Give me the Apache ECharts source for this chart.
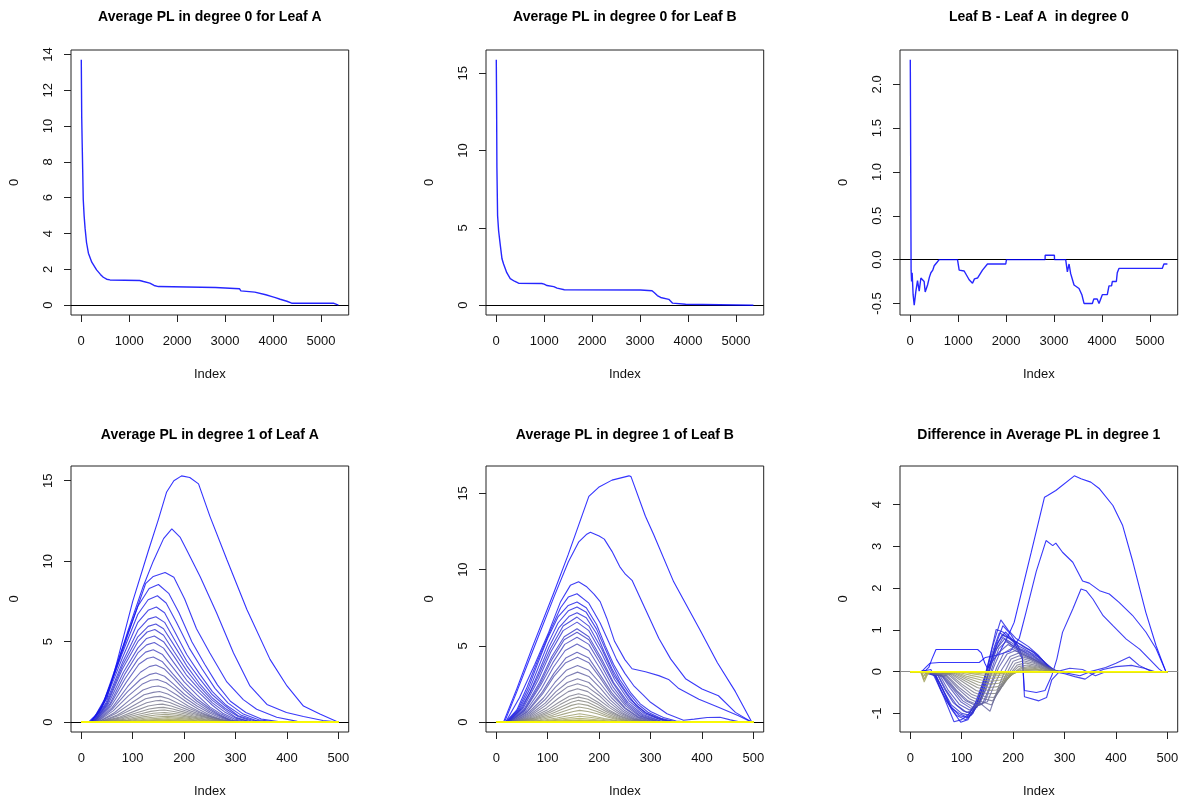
<!DOCTYPE html>
<html>
<head>
<meta charset="utf-8">
<script src="https://cdn.jsdelivr.net/npm/echarts@6/dist/echarts.min.js"></script>
<style>
  html, body { margin: 0; background: #fff; }
  #main { width: 1184px; height: 798px; }
</style>
</head>
<body>
<div id="main"></div>
<script>
// ---- degree 0 landscapes: [index, value] vertices
const deg0LeafA = [[1,13.7],[10,10.5],[20,9.0],[30,7.6],[42,5.9],[60,5.0],[80,4.3],[110,3.5],[150,2.9],[220,2.4],[320,1.97],[400,1.72],[460,1.56],[530,1.45],[600,1.41],[1220,1.38],[1300,1.32],[1430,1.23],[1520,1.1],[1610,1.04],[2800,0.99],[2830,0.95],[3300,0.92],[3330,0.8],[3620,0.73],[3660,0.63],[3850,0.58],[3980,0.48],[4050,0.42],[4150,0.33],[4290,0.22],[4390,0.11],[5260,0.11],[5365,0.0]];
const deg0LeafB = [[1,15.87],[7,13.3],[14,8.9],[28,5.8],[50,4.8],[84,3.9],[120,3.0],[153,2.66],[220,2.1],[292,1.72],[380,1.55],[466,1.42],[950,1.4],[1000,1.36],[1060,1.27],[1200,1.2],[1270,1.1],[1420,1.0],[3010,0.98],[3250,0.93],[3300,0.8],[3360,0.62],[3430,0.5],[3600,0.38],[3640,0.3],[3680,0.13],[3710,0.07],[3950,0.06],[3985,0],[5365,0]];
const deg0Diff = [[1,2.28],[6,1.62],[10,1.6],[18,-0.12],[28,-0.25],[40,-0.15],[60,-0.4],[83,-0.52],[118,-0.36],[152,-0.24],[187,-0.36],[222,-0.21],[260,-0.19],[290,-0.25],[312,-0.37],[361,-0.29],[400,-0.2],[431,-0.15],[470,-0.12],[500,-0.07],[560,-0.03],[604,0],[900,0],[930,0.02],[986,0],[1021,-0.12],[1125,-0.13],[1229,-0.23],[1299,-0.27],[1340,-0.22],[1403,-0.21],[1507,-0.12],[1611,-0.05],[1993,-0.05],[2007,0],[2813,0],[2815,0.05],[3007,0.05],[3010,0],[3243,0],[3278,-0.14],[3313,-0.05],[3347,-0.16],[3417,-0.29],[3521,-0.33],[3580,-0.4],[3625,-0.5],[3799,-0.5],[3830,-0.45],[3900,-0.45],[3938,-0.5],[3960,-0.5],[4007,-0.4],[4111,-0.4],[4146,-0.3],[4200,-0.3],[4215,-0.25],[4300,-0.25],[4319,-0.15],[4354,-0.1],[5257,-0.1],[5292,-0.05],[5365,-0.05]];

// ---- degree 1 landscapes (lambda_1, lambda_2, ...), [index, value] vertices
const Z = [[0,0],[500,0]];
const deg1LeafA = [
  [[0,0],[14,0],[30,0.5],[50,1.5],[70,3.8],[100,7.5],[130,10.6],[150,12.6],[166,14.3],[180,15.0],[195,15.3],[211,15.2],[228,14.8],[250,12.8],[283,10.1],[322,7.0],[367,3.9],[400,2.25],[432,1.0],[464,0.5],[500,0]],
  [[0,0],[16,0],[35,0.6],[60,2.6],[90,5.6],[120,8.4],[140,10.0],[160,11.4],[176,12.0],[192,11.5],[205,10.7],[231,9.05],[263,6.8],[296,4.3],[328,2.25],[361,1.1],[399,0.6],[432,0.35],[470,0.1],[500,0]],
  [[0,0],[18,0],[40,0.9],[70,3.5],[100,6.3],[125,8.6],[140,9.05],[163,9.3],[180,9.0],[201,7.65],[224,5.8],[250,4.3],[283,2.5],[315,1.4],[341,0.8],[380,0.3],[420,0.05],[460,0],[500,0]],
  [[0,0],[20,0],[45,1.4],[80,4.6],[110,7.2],[132,8.3],[150,8.55],[170,8.0],[190,6.8],[215,5.0],[240,3.6],[265,2.3],[290,1.3],[320,0.6],[350,0.2],[390,0],[500,0]],
  [[0,0],[20,0],[45,1.3],[80,4.3],[110,6.7],[130,7.6],[148,7.85],[165,7.4],[185,6.2],[210,4.6],[235,3.3],[260,2.1],[285,1.2],[315,0.5],[345,0.15],[380,0],[500,0]],
  [[0,0],[22,0],[45,1.2],[80,4.0],[110,6.2],[130,6.95],[146,7.15],[162,6.8],[182,5.6],[205,4.2],[230,3.0],[255,1.9],[280,1.1],[310,0.45],[340,0.1],[370,0],[500,0]],
  [[0,0],[22,0],[48,1.2],[80,3.7],[110,5.7],[130,6.4],[145,6.55],[162,6.2],[180,5.2],[205,3.8],[230,2.7],[255,1.7],[280,1.0],[305,0.4],[335,0.1],[360,0],[500,0]],
  [[0,0],[24,0],[50,1.2],[80,3.5],[110,5.3],[130,5.95],[145,6.1],[160,5.8],[180,4.8],[205,3.5],[230,2.4],[255,1.5],[280,0.85],[305,0.35],[330,0.08],[355,0],[500,0]],
  [[0,0],[24,0],[50,1.1],[80,3.3],[110,5.0],[128,5.6],[143,5.75],[160,5.4],[180,4.4],[205,3.2],[230,2.2],[255,1.35],[280,0.75],[300,0.3],[325,0.05],[350,0],[500,0]],
  [[0,0],[25,0],[52,1.1],[82,3.1],[110,4.6],[127,5.2],[142,5.35],[160,5.0],[180,4.1],[205,2.9],[230,2.0],[255,1.2],[278,0.65],[300,0.25],[325,0.05],[345,0],[500,0]],
  [[0,0],[26,0],[55,1.1],[85,3.0],[110,4.3],[127,4.8],[142,4.95],[160,4.6],[180,3.7],[205,2.6],[230,1.8],[255,1.05],[275,0.55],[298,0.2],[320,0.04],[340,0],[500,0]],
  [[0,0],[26,0],[55,1.0],[85,2.7],[110,3.9],[125,4.35],[140,4.5],[158,4.2],[178,3.4],[200,2.5],[225,1.7],[250,0.95],[272,0.5],[295,0.15],[320,0],[500,0]],
  [[0,0],[28,0],[58,1.0],[88,2.5],[112,3.6],[128,3.95],[140,4.05],[158,3.75],[178,3.0],[200,2.2],[225,1.45],[250,0.85],[270,0.45],[292,0.12],[315,0],[500,0]],
  [[0,0],[28,0],[60,0.9],[90,2.2],[115,3.1],[132,3.45],[145,3.55],[162,3.3],[180,2.7],[200,2.0],[225,1.3],[250,0.75],[270,0.4],[290,0.1],[310,0],[500,0]],
  [[0,0],[30,0],[60,0.8],[90,1.9],[115,2.65],[132,2.95],[145,3.05],[162,2.85],[180,2.35],[200,1.75],[225,1.15],[250,0.65],[270,0.35],[290,0.1],[305,0],[500,0]],
  [[0,0],[30,0],[62,0.7],[92,1.65],[118,2.35],[135,2.6],[148,2.65],[165,2.45],[182,2.05],[202,1.5],[225,1.0],[250,0.55],[270,0.28],[288,0.08],[300,0],[500,0]],
  [[0,0],[32,0],[65,0.6],[95,1.4],[120,2.0],[138,2.2],[150,2.25],[165,2.1],[185,1.7],[205,1.25],[228,0.8],[250,0.45],[270,0.2],[290,0.04],[300,0],[500,0]],
  [[0,0],[32,0],[68,0.55],[98,1.2],[122,1.7],[140,1.85],[152,1.9],[168,1.75],[188,1.4],[208,1.0],[230,0.65],[252,0.35],[272,0.15],[290,0],[500,0]],
  [[0,0],[34,0],[70,0.45],[100,1.0],[125,1.45],[142,1.57],[154,1.6],[170,1.45],[190,1.15],[210,0.85],[232,0.55],[255,0.3],[275,0.1],[290,0],[500,0]],
  [[0,0],[35,0],[72,0.4],[102,0.85],[127,1.2],[145,1.33],[155,1.35],[172,1.22],[192,0.95],[212,0.7],[235,0.45],[258,0.25],[278,0.08],[290,0],[500,0]],
  [[0,0],[36,0],[75,0.32],[105,0.7],[130,1.0],[148,1.1],[158,1.12],[175,1.0],[195,0.78],[215,0.57],[238,0.36],[260,0.18],[280,0.05],[290,0],[500,0]],
  [[0,0],[38,0],[78,0.28],[108,0.58],[132,0.82],[150,0.9],[160,0.92],[178,0.82],[198,0.64],[218,0.46],[240,0.3],[262,0.15],[282,0.04],[292,0],[500,0]],
  [[0,0],[40,0],[80,0.22],[110,0.47],[135,0.67],[152,0.74],[162,0.75],[180,0.66],[200,0.52],[220,0.37],[242,0.24],[265,0.12],[285,0.03],[295,0],[500,0]],
  [[0,0],[42,0],[85,0.18],[115,0.4],[140,0.55],[162,0.6],[185,0.52],[210,0.36],[240,0.2],[268,0.07],[295,0],[500,0]],
  [[0,0],[44,0],[90,0.14],[120,0.33],[145,0.44],[165,0.48],[188,0.41],[212,0.28],[242,0.15],[270,0.05],[295,0],[500,0]],
  [[0,0],[46,0],[95,0.11],[125,0.26],[150,0.34],[168,0.37],[190,0.31],[215,0.21],[245,0.1],[275,0.03],[295,0],[500,0]],
  [[0,0],[48,0],[100,0.09],[130,0.2],[168,0.28],[195,0.22],[220,0.14],[250,0.06],[290,0],[500,0]],
  [[0,0],[50,0],[105,0.07],[135,0.14],[168,0.2],[198,0.15],[225,0.09],[255,0.03],[285,0],[500,0]],
  [[0,0],[55,0],[110,0.05],[140,0.1],[170,0.14],[200,0.1],[230,0.05],[280,0],[500,0]],
  [[0,0],[60,0],[115,0.04],[170,0.1],[210,0.06],[250,0.02],[275,0],[500,0]],
  [[0,0],[65,0],[120,0.03],[170,0.07],[215,0.04],[260,0],[500,0]],
  [[0,0],[70,0],[170,0.05],[250,0],[500,0]],
  [[0,0],[75,0],[170,0.035],[245,0],[500,0]],
  [[0,0],[80,0],[170,0.02],[240,0],[500,0]],
  Z, Z, Z, Z, Z, Z, Z, Z, Z, Z
];
const deg1LeafB = [
  [[0,0],[14,0],[40,2.2],[70,4.9],[112,8.5],[140,11.0],[160,12.9],[180,14.8],[199,15.4],[225,15.87],[258,16.15],[262,16.1],[290,13.5],[306,12.3],[345,9.2],[397,6.0],[430,3.9],[465,2.0],[497,0],[500,0]],
  [[0,0],[16,0],[40,2.0],[70,4.6],[112,8.2],[140,10.5],[160,11.8],[175,12.3],[183,12.45],[200,12.2],[210,12.0],[225,11.2],[240,10.2],[251,9.7],[264,9.3],[290,7.4],[316,5.5],[339,4.15],[368,2.85],[400,2.17],[432,1.73],[465,0.64],[497,0],[500,0]],
  [[0,0],[18,0],[45,1.6],[75,3.8],[102,5.9],[125,7.9],[144,8.97],[160,9.2],[175,8.9],[190,8.4],[202,7.9],[215,6.8],[230,5.3],[250,4.1],[264,3.5],[290,3.3],[316,3.05],[335,2.8],[355,2.2],[394,1.5],[432,0.97],[471,0.42],[497,0],[500,0]],
  [[0,0],[18,0],[40,0.8],[60,2.3],[80,4.0],[105,6.0],[125,7.5],[140,8.2],[157,8.42],[180,7.8],[202,6.5],[218,5.3],[234,4.1],[250,3.2],[267,2.4],[285,1.8],[300,1.3],[332,0.55],[364,0.12],[385,0.2],[410,0.3],[435,0.32],[455,0.15],[475,0],[500,0]],
  [[0,0],[20,0],[42,0.8],[62,2.2],[80,3.8],[100,5.5],[120,6.9],[140,7.65],[157,7.88],[175,7.5],[195,6.4],[212,5.0],[228,3.8],[245,2.8],[262,1.9],[280,1.2],[300,0.7],[325,0.3],[350,0.08],[370,0],[500,0]],
  [[0,0],[20,0],[44,0.8],[64,2.1],[82,3.6],[100,5.1],[120,6.5],[140,7.3],[157,7.55],[175,7.2],[195,6.1],[212,4.8],[225,3.8],[240,2.8],[258,1.9],[275,1.2],[295,0.65],[320,0.25],[345,0.05],[360,0],[500,0]],
  [[0,0],[22,0],[46,0.8],[66,2.0],[84,3.4],[102,4.9],[122,6.2],[142,6.95],[157,7.18],[175,6.85],[195,5.8],[210,4.6],[225,3.5],[240,2.6],[256,1.8],[272,1.1],[292,0.6],[315,0.22],[340,0.04],[355,0],[500,0]],
  [[0,0],[22,0],[50,0.9],[80,2.9],[105,4.8],[130,6.3],[157,6.89],[180,6.3],[205,4.8],[230,3.0],[260,1.5],[290,0.6],[330,0.1],[355,0],[500,0]],
  [[0,0],[24,0],[52,0.9],[82,2.8],[106,4.6],[130,6.0],[157,6.56],[180,6.0],[205,4.5],[230,2.8],[258,1.4],[288,0.55],[325,0.1],[350,0],[500,0]],
  [[0,0],[24,0],[54,0.85],[84,2.6],[108,4.3],[132,5.6],[157,6.12],[180,5.6],[204,4.2],[228,2.6],[256,1.3],[285,0.5],[320,0.08],[345,0],[500,0]],
  [[0,0],[25,0],[55,0.8],[85,2.5],[108,4.1],[132,5.4],[157,5.9],[180,5.4],[204,4.0],[228,2.5],[255,1.2],[283,0.45],[318,0.07],[340,0],[500,0]],
  [[0,0],[26,0],[56,0.8],[86,2.4],[110,3.9],[133,5.1],[157,5.57],[180,5.1],[203,3.8],[226,2.35],[253,1.15],[280,0.42],[315,0.06],[335,0],[500,0]],
  [[0,0],[26,0],[58,0.75],[88,2.2],[111,3.6],[134,4.7],[157,5.13],[180,4.7],[202,3.5],[225,2.15],[252,1.05],[278,0.4],[312,0.05],[332,0],[500,0]],
  [[0,0],[28,0],[60,0.7],[90,2.0],[112,3.2],[135,4.2],[157,4.59],[180,4.2],[202,3.1],[224,1.95],[250,0.95],[276,0.35],[310,0.05],[330,0],[500,0]],
  [[0,0],[28,0],[60,0.65],[90,1.85],[112,3.0],[135,3.9],[158,4.26],[180,3.9],[202,2.9],[224,1.8],[250,0.9],[275,0.32],[305,0.04],[325,0],[500,0]],
  [[0,0],[30,0],[62,0.6],[92,1.6],[114,2.6],[136,3.4],[158,3.71],[180,3.4],[202,2.55],[224,1.6],[248,0.8],[272,0.3],[302,0.04],[320,0],[500,0]],
  [[0,0],[30,0],[64,0.55],[94,1.45],[115,2.3],[137,3.0],[158,3.28],[180,3.0],[202,2.25],[222,1.45],[246,0.72],[270,0.26],[300,0.03],[318,0],[500,0]],
  [[0,0],[32,0],[66,0.5],[95,1.25],[116,2.0],[138,2.6],[158,2.84],[180,2.6],[200,1.95],[222,1.25],[245,0.62],[268,0.22],[298,0.02],[315,0],[500,0]],
  [[0,0],[32,0],[68,0.45],[96,1.1],[118,1.8],[138,2.3],[158,2.52],[178,2.3],[200,1.75],[220,1.1],[244,0.55],[266,0.2],[295,0.02],[312,0],[500,0]],
  [[0,0],[34,0],[70,0.4],[98,0.95],[120,1.55],[140,2.0],[158,2.19],[178,2.0],[198,1.52],[220,0.95],[242,0.48],[265,0.17],[292,0.02],[310,0],[500,0]],
  [[0,0],[35,0],[72,0.35],[100,0.82],[122,1.3],[142,1.7],[160,1.86],[178,1.7],[198,1.3],[218,0.82],[240,0.42],[264,0.14],[290,0],[500,0]],
  [[0,0],[36,0],[74,0.3],[102,0.72],[124,1.15],[144,1.5],[160,1.64],[178,1.5],[198,1.15],[218,0.72],[240,0.37],[262,0.12],[288,0],[500,0]],
  [[0,0],[37,0],[76,0.27],[104,0.63],[126,1.0],[146,1.31],[160,1.43],[178,1.31],[197,1.0],[217,0.63],[238,0.32],[260,0.1],[285,0],[500,0]],
  [[0,0],[38,0],[78,0.23],[106,0.53],[128,0.85],[146,1.1],[160,1.21],[178,1.1],[196,0.85],[216,0.53],[236,0.27],[258,0.08],[282,0],[500,0]],
  [[0,0],[40,0],[80,0.19],[108,0.44],[130,0.7],[148,0.9],[160,0.99],[178,0.9],[196,0.7],[215,0.44],[235,0.22],[256,0.07],[280,0],[500,0]],
  [[0,0],[42,0],[85,0.16],[112,0.36],[134,0.56],[150,0.7],[162,0.77],[178,0.7],[196,0.55],[214,0.35],[234,0.17],[255,0.05],[278,0],[500,0]],
  [[0,0],[45,0],[90,0.12],[118,0.27],[140,0.42],[162,0.55],[185,0.42],[210,0.24],[235,0.1],[260,0.02],[275,0],[500,0]],
  [[0,0],[48,0],[95,0.09],[122,0.2],[145,0.31],[162,0.39],[185,0.3],[210,0.17],[235,0.07],[265,0],[500,0]],
  [[0,0],[50,0],[100,0.07],[130,0.16],[162,0.26],[190,0.17],[220,0.07],[255,0],[500,0]],
  [[0,0],[55,0],[105,0.05],[135,0.1],[162,0.15],[192,0.1],[225,0.03],[250,0],[500,0]],
  [[0,0],[60,0],[110,0.04],[160,0.1],[200,0.05],[240,0],[500,0]],
  [[0,0],[65,0],[120,0.03],[160,0.06],[210,0.02],[240,0],[500,0]],
  [[0,0],[70,0],[160,0.04],[230,0],[500,0]],
  [[0,0],[80,0],[160,0.02],[220,0],[500,0]],
  Z, Z, Z, Z, Z, Z, Z, Z, Z, Z
];
const deg1Diff = [
  [[0,0],[20,0],[30,0.03],[36,0.1],[42,0.3],[50,0.53],[131,0.53],[138,0.45],[145,0.2],[150,0.08],[160,0.25],[175,0.5],[190,0.85],[202,1.18],[235,2.85],[261,4.18],[267,4.22],[283,4.34],[319,4.69],[332,4.62],[351,4.54],[368,4.38],[394,3.98],[413,3.5],[433,2.62],[458,1.42],[478,0.62],[497,0],[500,0]],
  [[0,0],[22,0],[30,0.1],[38,0.2],[56,0.22],[134,0.22],[146,0.34],[170,0.4],[195,0.5],[212,0.8],[225,1.42],[245,2.4],[264,3.14],[277,3.02],[283,3.08],[296,2.86],[316,2.62],[335,2.17],[348,2.12],[368,1.94],[387,1.86],[406,1.66],[432,1.35],[458,0.95],[478,0.55],[497,0],[500,0]],
  [[0,0],[20,0],[45,0],[60,-0.35],[80,-0.85],[95,-1.05],[110,-1.1],[125,-0.8],[140,-0.3],[155,0.2],[170,0.7],[185,0.95],[200,0.75],[212,0.45],[218,0.3],[222,-0.45],[245,-0.5],[262,-0.45],[275,-0.1],[285,0.3],[296,0.94],[316,1.5],[332,1.98],[342,1.94],[355,1.74],[375,1.34],[394,1.1],[420,0.78],[446,0.54],[465,0.3],[484,0.06],[491,0],[500,0]],
  [[0,0],[20,0],[48,-0.05],[62,-0.4],[80,-0.9],[98,-1.21],[112,-1.15],[130,-0.75],[150,-0.1],[165,0.6],[180,1.1],[195,0.9],[210,0.6],[218,0.35],[222,-0.6],[250,-0.7],[265,-0.62],[275,-0.2],[290,0],[330,-0.1],[350,0],[380,0.1],[400,0.2],[426,0.35],[445,0.15],[470,0],[500,0]],
  [[0,0],[20,0],[40,0.05],[50,-0.2],[65,-0.6],[85,-1.2],[100,-1.15],[115,-1.0],[130,-0.7],[145,-0.1],[160,0.6],[176,1.24],[190,1.0],[205,0.8],[230,0.6],[250,0.38],[267,0.14],[280,0],[300,-0.05],[320,-0.12],[340,-0.18],[355,-0.05],[375,0.05],[400,0.12],[430,0.15],[455,0.08],[475,0],[500,0]],
  [[0,0],[22,0],[45,0],[55,-0.3],[70,-0.7],[90,-1.05],[108,-1.15],[122,-1.0],[138,-0.5],[150,0.1],[167,1.01],[180,0.95],[198,0.75],[215,0.65],[235,0.5],[255,0.3],[270,0.1],[285,0],[310,0.08],[335,0.05],[360,-0.1],[380,0],[500,0]],
  [[0,0],[22,0],[48,-0.1],[60,-0.45],[78,-0.85],[95,-1.0],[112,-1.1],[128,-0.85],[142,-0.3],[155,0.3],[173,0.93],[186,0.85],[205,0.72],[222,0.58],[242,0.45],[262,0.22],[278,0.05],[290,0],[500,0]],
  [[0,0],[24,0],[50,-0.1],[62,-0.4],[80,-0.8],[100,-1.0],[118,-1.05],[134,-0.75],[148,-0.2],[160,0.4],[178,0.88],[192,0.8],[210,0.62],[228,0.5],[248,0.35],[268,0.15],[285,0],[500,0]],
  [[0,0],[24,0],[52,-0.05],[66,-0.4],[84,-0.75],[104,-0.95],[120,-1.0],[136,-0.7],[150,-0.15],[164,0.45],[180,0.82],[196,0.7],[214,0.55],[232,0.45],[252,0.28],[272,0.08],[288,0],[500,0]],
  [[0,0],[25,0],[55,-0.1],[70,-0.45],[90,-0.8],[110,-0.98],[125,-0.9],[140,-0.55],[152,-0.05],[168,0.55],[183,0.78],[200,0.62],[218,0.5],[238,0.38],[258,0.2],[276,0.04],[290,0],[500,0]],
  [[0,0],[26,0],[58,-0.1],[74,-0.45],[95,-0.78],[115,-0.92],[130,-0.85],[145,-0.45],[158,0.05],[172,0.55],[186,0.72],[204,0.58],[224,0.45],[245,0.3],[265,0.12],[282,0],[500,0]],
  [[0,0],[27,0],[60,-0.08],[78,-0.4],[98,-0.72],[118,-0.88],[134,-0.8],[148,-0.4],[162,0.1],[176,0.5],[190,0.65],[208,0.52],[228,0.4],[248,0.25],[268,0.08],[285,0],[500,0]],
  [[0,0],[28,0],[62,-0.1],[82,-0.4],[102,-0.7],[122,-0.85],[140,-0.78],[155,-0.35],[168,0.1],[182,0.45],[196,0.55],[214,0.45],[234,0.33],[254,0.2],[272,0.05],[288,0],[500,0]],
  [[0,0],[28,0],[65,-0.12],[86,-0.42],[108,-0.7],[128,-0.82],[145,-0.72],[158,-0.3],[172,0.1],[188,0.42],[204,0.5],[222,0.4],[242,0.28],[262,0.14],[280,0.02],[290,0],[500,0]],
  [[0,0],[30,0],[68,-0.12],[90,-0.45],[112,-0.7],[132,-0.8],[150,-0.72],[164,-0.3],[178,0.05],[194,0.36],[210,0.44],[228,0.34],[248,0.22],[268,0.1],[285,0],[500,0]],
  [[0,0],[30,0],[70,-0.1],[92,-0.4],[115,-0.65],[138,-0.78],[155,-0.95],[165,-0.6],[180,-0.1],[196,0.3],[212,0.38],[232,0.3],[252,0.18],[272,0.06],[288,0],[500,0]],
  [[0,0],[32,0],[72,-0.1],[95,-0.38],[118,-0.6],[140,-0.72],[158,-0.8],[170,-0.5],[185,-0.1],[200,0.25],[216,0.32],[236,0.25],[256,0.14],[275,0.04],[290,0],[500,0]],
  [[0,0],[32,0],[75,-0.08],[98,-0.33],[120,-0.55],[142,-0.65],[160,-0.7],[174,-0.45],[188,-0.1],[204,0.2],[220,0.26],[240,0.2],[260,0.1],[280,0],[500,0]],
  [[0,0],[34,0],[78,-0.07],[100,-0.3],[124,-0.5],[146,-0.6],[162,-0.62],[176,-0.4],[192,-0.08],[208,0.16],[224,0.21],[244,0.15],[264,0.07],[282,0],[500,0]],
  [[0,0],[35,0],[80,-0.06],[104,-0.26],[128,-0.45],[150,-0.53],[166,-0.52],[180,-0.34],[195,-0.06],[210,0.12],[228,0.16],[248,0.11],[268,0.04],[285,0],[500,0]],
  [[0,0],[36,0],[82,-0.05],[106,-0.22],[130,-0.38],[152,-0.45],[168,-0.44],[182,-0.28],[198,-0.05],[214,0.09],[232,0.12],[252,0.08],[272,0.02],[285,0],[500,0]],
  [[0,0],[36,0],[85,-0.04],[108,-0.18],[132,-0.32],[154,-0.38],[170,-0.36],[185,-0.22],[200,-0.04],[216,0.07],[235,0.09],[255,0.05],[275,0],[500,0]],
  [[0,0],[38,0],[88,-0.03],[110,-0.15],[135,-0.26],[156,-0.3],[172,-0.28],[188,-0.17],[202,-0.03],[220,0.05],[240,0.06],[260,0.03],[278,0],[500,0]],
  [[0,0],[20,0],[25,-0.12],[30,-0.05],[40,0],[90,-0.02],[112,-0.12],[138,-0.2],[158,-0.23],[175,-0.2],[192,-0.12],[205,-0.02],[225,0.03],[245,0.04],[265,0],[500,0]],
  [[0,0],[20,0],[26,-0.2],[32,-0.05],[40,0],[95,-0.02],[118,-0.09],[142,-0.15],[162,-0.16],[180,-0.13],[196,-0.07],[210,0],[230,0.02],[255,0],[500,0]],
  [[0,0],[22,0],[27,-0.25],[33,-0.08],[40,0],[100,-0.01],[125,-0.06],[148,-0.1],[168,-0.1],[186,-0.07],[200,-0.03],[215,0],[500,0]],
  [[0,0],[22,0],[28,-0.18],[34,-0.04],[42,0],[110,-0.02],[140,-0.05],[165,-0.06],[190,-0.03],[210,0],[500,0]],
  [[0,0],[24,0],[29,-0.1],[36,0],[120,-0.01],[150,-0.03],[175,-0.03],[200,0],[500,0]],
  Z, Z, Z, Z, Z, Z, Z, Z, Z, Z, Z, Z
];

// ---- tick labels
const xTicksDeg0 = [0, 1000, 2000, 3000, 4000, 5000];
const xTicksDeg1 = [0, 100, 200, 300, 400, 500];
const yTicksDeg0A = [0, 2, 4, 6, 8, 10, 12, 14];
const yTicksDeg0B = [0, 5, 10, 15];
const yTicksDeg0Diff = [-0.5, 0, 0.5, 1, 1.5, 2];
const yTicksDeg1A = [0, 5, 10, 15];
const yTicksDeg1B = [0, 5, 10, 15];
const yTicksDeg1Diff = [-1, 0, 1, 2, 3, 4];

const FONT = '"Liberation Sans", Arial, Helvetica, sans-serif';
const colLeft = [71, 486, 900];
const plotW = 277.7;
const rowTop = [50, 466];
const rowH = [265, 266];
const titleY = [17, 435];

const panels = [
  { title: 'Average PL in degree 0 for Leaf A', curves: [deg0LeafA], xTicks: xTicksDeg0, yTicks: yTicksDeg0A, row: 0, col: 0, ramp: false, zero: '#000' },
  { title: 'Average PL in degree 0 for Leaf B', curves: [deg0LeafB], xTicks: xTicksDeg0, yTicks: yTicksDeg0B, row: 0, col: 1, ramp: false, zero: '#000' },
  { title: 'Leaf B - Leaf A  in degree 0', curves: [deg0Diff], xTicks: xTicksDeg0, yTicks: yTicksDeg0Diff, row: 0, col: 2, ramp: false, zero: '#000', fixed: 1 },
  { title: 'Average PL in degree 1 of Leaf A', curves: deg1LeafA, xTicks: xTicksDeg1, yTicks: yTicksDeg1A, row: 1, col: 0, ramp: true, zero: '#000' },
  { title: 'Average PL in degree 1 of Leaf B', curves: deg1LeafB, xTicks: xTicksDeg1, yTicks: yTicksDeg1B, row: 1, col: 1, ramp: true, zero: '#000' },
  { title: 'Difference in Average PL in degree 1', curves: deg1Diff, xTicks: xTicksDeg1, yTicks: yTicksDeg1Diff, row: 1, col: 2, ramp: true, zero: '#8c8c8c' }
];

// R style axis range: data range padded by 4% on each side
function rRange(curves, dim) {
  let lo = Infinity, hi = -Infinity;
  curves.forEach(c => c.forEach(p => { lo = Math.min(lo, p[dim]); hi = Math.max(hi, p[dim]); }));
  const pad = (hi - lo) * 0.04;
  return [lo - pad, hi + pad];
}

// colorRampPalette(c('blue', 'yellow'))
function rampColor(i, n) {
  const t = n > 1 ? i / (n - 1) : 0;
  const rg = Math.round(255 * t), b = Math.round(255 * (1 - t));
  return 'rgb(' + rg + ',' + rg + ',' + b + ')';
}

const option = { animation: false, backgroundColor: '#fff', grid: [], xAxis: [], yAxis: [], series: [], graphic: [] };

panels.forEach((p, i) => {
  const left = colLeft[p.col], top = rowTop[p.row];
  const xr = rRange(p.curves, 0), yr = rRange(p.curves, 1);
  const tickStyle = { color: '#111', fontSize: 13, fontFamily: FONT };
  const fmt = v => p.fixed ? Number(v).toFixed(p.fixed) : String(v);

  option.grid.push({
    left: left, top: top, width: plotW, height: rowH[p.row],
    show: true, borderColor: '#222', borderWidth: 1, backgroundColor: 'transparent',
    containLabel: false, outerBoundsMode: 'none'
  });
  option.xAxis.push({
    type: 'value', gridIndex: i, min: xr[0], max: xr[1],
    name: 'Index', nameLocation: 'middle', nameGap: 53, nameTextStyle: tickStyle,
    axisLine: { show: false, onZero: false }, splitLine: { show: false },
    axisTick: { show: true, length: 7, customValues: p.xTicks, lineStyle: { color: '#222' } },
    axisLabel: Object.assign({ customValues: p.xTicks, margin: 20, formatter: v => String(v) }, tickStyle)
  });
  option.yAxis.push({
    type: 'value', gridIndex: i, min: yr[0], max: yr[1],
    name: '0', nameLocation: 'middle', nameGap: 50, nameRotate: 90, nameTextStyle: tickStyle,
    axisLine: { show: false, onZero: false }, splitLine: { show: false },
    axisTick: { show: true, length: 7, customValues: p.yTicks, lineStyle: { color: '#222' } },
    axisLabel: Object.assign({ customValues: p.yTicks, margin: 16, rotate: 90, formatter: fmt }, tickStyle)
  });

  p.curves.forEach((c, k) => {
    const s = {
      type: 'line', xAxisIndex: i, yAxisIndex: i, data: c, z: 2,
      showSymbol: false, symbol: 'none', silent: true, clip: true,
      emphasis: { disabled: true },
      lineStyle: p.ramp
        ? { width: 1.1, opacity: 0.8, color: rampColor(k, p.curves.length) }
        : { width: 1.4, opacity: 0.85, color: '#0000ff' }
    };
    if (k === 0) {
      s.markLine = {
        silent: true, symbol: 'none', z: 1, animation: false,
        label: { show: false },
        lineStyle: { color: p.zero, width: 1, type: 'solid' },
        data: [{ yAxis: 0 }]
      };
    }
    option.series.push(s);
  });

  option.graphic.push({
    type: 'text', x: left + plotW / 2, y: titleY[p.row],
    style: { text: p.title, font: 'bold 14px ' + FONT, fill: '#000', textAlign: 'center', textVerticalAlign: 'middle', verticalAlign: 'middle' }
  });
});

const chart = echarts.init(document.getElementById('main'));
chart.setOption(option);
</script>
</body>
</html>
